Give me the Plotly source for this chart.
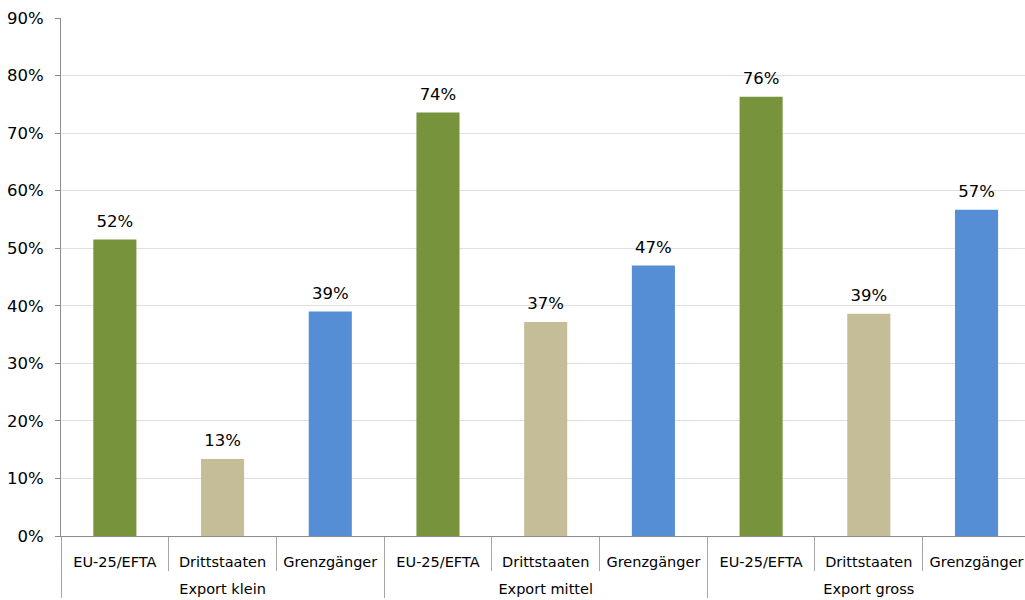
import plotly.graph_objects as go

groups = ['Export klein'] * 3 + ['Export mittel'] * 3 + ['Export gross'] * 3
categories = ['EU-25/EFTA', 'Drittstaaten', 'Grenzgänger'] * 3
values = [0.515, 0.134, 0.390, 0.736, 0.372, 0.470, 0.763, 0.386, 0.567]
bar_colors = ['#77933C', '#C4BD97', '#558ED5'] * 3
y_ticks = [0, 0.1, 0.2, 0.3, 0.4, 0.5, 0.6, 0.7, 0.8, 0.9]

font_family = 'DejaVu Sans'

# a tall empty second line under the inner labels pushes the group labels down
inner_labels = [c + '<br><span style="font-size:26px"> </span>' for c in categories]

fig = go.Figure()
fig.add_trace(
    go.Bar(
        x=[groups, inner_labels],
        y=values,
        marker=dict(color=bar_colors, line=dict(width=0)),
        width=0.4,
        hoverinfo='y',
    )
)
# value labels, lifted a bit above the bars by an invisible marker
fig.add_trace(
    go.Scatter(
        x=[groups, inner_labels],
        y=values,
        mode='markers+text',
        marker=dict(size=12, color='rgba(0,0,0,0)'),
        text=[f'{v:.0%}' for v in values],
        textposition='top center',
        textfont=dict(family=font_family, size=16.5, color='#000000'),
        cliponaxis=False,
        hoverinfo='skip',
    )
)

fig.update_layout(
    width=1025,
    height=600,
    margin=dict(l=61, r=0, t=18, b=64),
    plot_bgcolor='white',
    paper_bgcolor='white',
    showlegend=False,
    font=dict(family=font_family, size=15, color='#000000'),
)

fig.update_yaxes(
    range=[0, 0.9],
    tickvals=y_ticks,
    tickformat='.0%',
    showgrid=True,
    gridcolor='#e0e0e0',
    gridwidth=1,
    showline=True,
    linecolor='#8c8c8c',
    linewidth=1,
    ticks='outside',
    ticklen=5,
    tickcolor='#8c8c8c',
    ticklabelstandoff=8,
    zeroline=False,
    tickfont=dict(family=font_family, size=16.5, color='#000000'),
)

fig.update_xaxes(
    type='multicategory',
    range=[-0.5, 8.45],
    automargin=False,
    showline=True,
    linecolor='#8c8c8c',
    linewidth=1,
    ticks='outside',
    tickson='boundaries',
    ticklen=34,
    tickcolor='#a6a6a6',
    showdividers=True,
    dividercolor='#a6a6a6',
    dividerwidth=1,
    showgrid=False,
    ticklabelstandoff=13,
    ticklabeloverflow='allow',
    tickfont=dict(family=font_family, size=14.5, color='#000000'),
)

# page without the default body margin, so the figure fills the window exactly
fig.write_html(
    "out.html",
    config={'displayModeBar': False},
    post_script="document.body.style.margin='0';document.documentElement.style.overflow='hidden';",
)
